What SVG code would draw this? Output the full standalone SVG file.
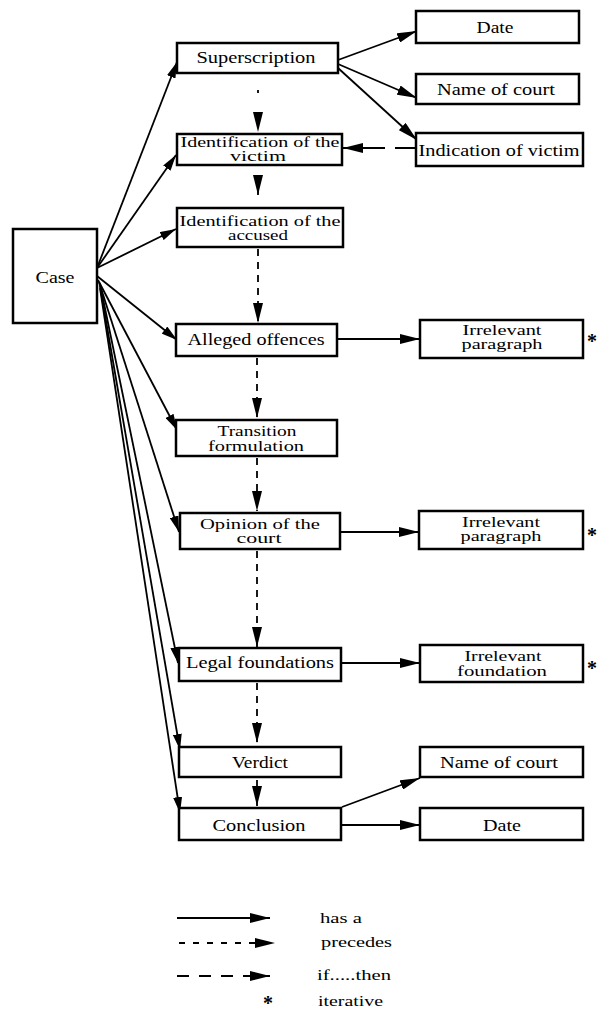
<svg xmlns="http://www.w3.org/2000/svg" width="597" height="1012" viewBox="0 0 597 1012">
<style>
.box{fill:#fff;stroke:#000;stroke-width:2.5}
.t{font-family:"Liberation Serif","Times New Roman",serif;font-size:16px;fill:#000;text-anchor:middle}
.t2{font-family:"Liberation Serif","Times New Roman",serif;font-size:14px;fill:#000;text-anchor:middle}
.st{font-family:"Liberation Serif","Times New Roman",serif;font-size:20px;font-weight:bold;fill:#000;text-anchor:middle}
.lg{font-family:"Liberation Serif","Times New Roman",serif;font-size:15px;fill:#000}
.c{fill:none;stroke:#000;stroke-width:1.8}
.has{marker-end:url(#ah)}
.fan{marker-end:url(#as)}
.pre{stroke-dasharray:7 6;marker-end:url(#ah)}
.ift{marker-end:url(#ah)}
</style>
<defs>
<marker id="ah" viewBox="0 0 20 10" refX="20" refY="5" markerUnits="userSpaceOnUse" markerWidth="20" markerHeight="10" orient="auto"><path d="M0,0 L20,5 L0,10 z" fill="#000"/></marker>
<marker id="as" viewBox="0 0 16 9" refX="16" refY="4.5" markerUnits="userSpaceOnUse" markerWidth="16" markerHeight="9" orient="auto"><path d="M0,0 L16,4.5 L0,9 z" fill="#000"/></marker>
</defs>
<rect width="597" height="1012" fill="#fff"/>

<g id="connectors">
<path class="c fan" d="M97,268 L177,62"/>
<path class="c fan" d="M97,268 L176,155"/>
<path class="c fan" d="M97,268 L176,229"/>
<path class="c fan" d="M97,276 L177,340"/>
<path class="c fan" d="M98,280 L177,430"/>
<path class="c fan" d="M99,282 L179,532"/>
<path class="c fan" d="M100,284 L178,663"/>
<path class="c fan" d="M100,286 L180,750"/>
<path class="c fan" d="M100,288 L180,813"/>
<path class="c has" d="M338,60 L417,31"/>
<path class="c has" d="M338,64 L417,98"/>
<path class="c has" d="M338,68 L417,140"/>
<path class="c ift" d="M416,148 L343,148" stroke-dasharray="21 10 80"/>
<path class="c" d="M258,90 L258,132" stroke-dasharray="3 60" marker-end="url(#ah)"/>
<path class="c" d="M258,176 L258,195" marker-end="url(#ah)"/>
<path class="c pre" d="M258,249 L258,323"/>
<path class="c pre" d="M257,358 L257,418"/>
<path class="c pre" d="M257,458 L257,511"/>
<path class="c pre" d="M257,551 L257,647"/>
<path class="c pre" d="M257,683 L257,743"/>
<path class="c" d="M257,780 L257,806" marker-end="url(#ah)"/>
<path class="c has" d="M337,339 L420,339"/>
<path class="c has" d="M340,532 L419,532"/>
<path class="c has" d="M341,663 L420,663"/>
<path class="c has" d="M342,807 L420,778"/>
<path class="c has" d="M341,825 L420,825"/>
</g>

<g id="case"><rect class="box" x="13" y="229" width="84" height="94"/><text class="t" x="55" y="283" textLength="39" lengthAdjust="spacingAndGlyphs">Case</text></g>
<g id="superscription"><rect class="box" x="177" y="43" width="161" height="30"/><text class="t" x="256" y="63" textLength="119" lengthAdjust="spacingAndGlyphs">Superscription</text></g>
<g id="date1"><rect class="box" x="416" y="11" width="163" height="32"/><text class="t" x="495" y="33" textLength="37" lengthAdjust="spacingAndGlyphs">Date</text></g>
<g id="court1"><rect class="box" x="416" y="74" width="163" height="30"/><text class="t" x="496" y="95" textLength="118" lengthAdjust="spacingAndGlyphs">Name of court</text></g>
<g id="indication"><rect class="box" x="416" y="133" width="167" height="33"/><text class="t" x="499" y="156" textLength="161" lengthAdjust="spacingAndGlyphs">Indication of victim</text></g>
<g id="idvictim"><rect class="box" x="177" y="134" width="165" height="31"/><text class="t2" x="260" y="147" textLength="159" lengthAdjust="spacingAndGlyphs">Identification of the</text><text class="t2" x="258" y="161" textLength="56" lengthAdjust="spacingAndGlyphs">victim</text></g>
<g id="idaccused"><rect class="box" x="177" y="208" width="166" height="39"/><text class="t2" x="260" y="226" textLength="161" lengthAdjust="spacingAndGlyphs">Identification of the</text><text class="t2" x="258" y="240" textLength="60" lengthAdjust="spacingAndGlyphs">accused</text></g>
<g id="alleged"><rect class="box" x="176" y="324" width="161" height="32"/><text class="t" x="256" y="345" textLength="137" lengthAdjust="spacingAndGlyphs">Alleged offences</text></g>
<g id="irr1"><rect class="box" x="420" y="320" width="163" height="38"/><text class="t2" x="502" y="335" textLength="79" lengthAdjust="spacingAndGlyphs">Irrelevant</text><text class="t2" x="502" y="349" textLength="81" lengthAdjust="spacingAndGlyphs">paragraph</text></g>
<g id="transition"><rect class="box" x="176" y="420" width="161" height="36"/><text class="t2" x="257" y="436" textLength="79" lengthAdjust="spacingAndGlyphs">Transition</text><text class="t2" x="256" y="451" textLength="96" lengthAdjust="spacingAndGlyphs">formulation</text></g>
<g id="opinion"><rect class="box" x="180" y="513" width="160" height="36"/><text class="t2" x="260" y="529" textLength="120" lengthAdjust="spacingAndGlyphs">Opinion of the</text><text class="t2" x="259" y="543" textLength="45" lengthAdjust="spacingAndGlyphs">court</text></g>
<g id="irr2"><rect class="box" x="419" y="511" width="164" height="38"/><text class="t2" x="501" y="527" textLength="78" lengthAdjust="spacingAndGlyphs">Irrelevant</text><text class="t2" x="501" y="541" textLength="81" lengthAdjust="spacingAndGlyphs">paragraph</text></g>
<g id="legal"><rect class="box" x="179" y="648" width="162" height="33"/><text class="t" x="260" y="668" textLength="148" lengthAdjust="spacingAndGlyphs">Legal foundations</text></g>
<g id="irrfound"><rect class="box" x="420" y="645" width="163" height="37"/><text class="t2" x="503" y="661" textLength="77" lengthAdjust="spacingAndGlyphs">Irrelevant</text><text class="t2" x="502" y="676" textLength="90" lengthAdjust="spacingAndGlyphs">foundation</text></g>
<g id="verdict"><rect class="box" x="179" y="747" width="162" height="30"/><text class="t" x="260" y="768" textLength="56" lengthAdjust="spacingAndGlyphs">Verdict</text></g>
<g id="court2"><rect class="box" x="420" y="747" width="163" height="30"/><text class="t" x="499" y="768" textLength="118" lengthAdjust="spacingAndGlyphs">Name of court</text></g>
<g id="conclusion"><rect class="box" x="179" y="808" width="162" height="32"/><text class="t" x="259" y="831" textLength="93" lengthAdjust="spacingAndGlyphs">Conclusion</text></g>
<g id="date2"><rect class="box" x="420" y="808" width="163" height="32"/><text class="t" x="502" y="831" textLength="38" lengthAdjust="spacingAndGlyphs">Date</text></g>

<g id="stars">
<text class="st" x="592" y="348">*</text>
<text class="st" x="592" y="542">*</text>
<text class="st" x="592" y="675">*</text>
</g>

<g id="legend">
<path class="c" d="M177,918 L270,918" marker-end="url(#ah)"/>
<path class="c" d="M179,943 L275,943" stroke-dasharray="6 8" marker-end="url(#ah)"/>
<path class="c" d="M177,976 L270,976" stroke-dasharray="12 10" marker-end="url(#ah)"/>
<text class="st" x="268" y="1010" font-size="16">*</text>
<text class="lg" x="320" y="923" textLength="42" lengthAdjust="spacingAndGlyphs">has a</text>
<text class="lg" x="321" y="947" textLength="71" lengthAdjust="spacingAndGlyphs">precedes</text>
<text class="lg" x="317" y="980" textLength="74" lengthAdjust="spacingAndGlyphs">if.....then</text>
<text class="lg" x="318" y="1006" textLength="65" lengthAdjust="spacingAndGlyphs">iterative</text>
</g>
</svg>
